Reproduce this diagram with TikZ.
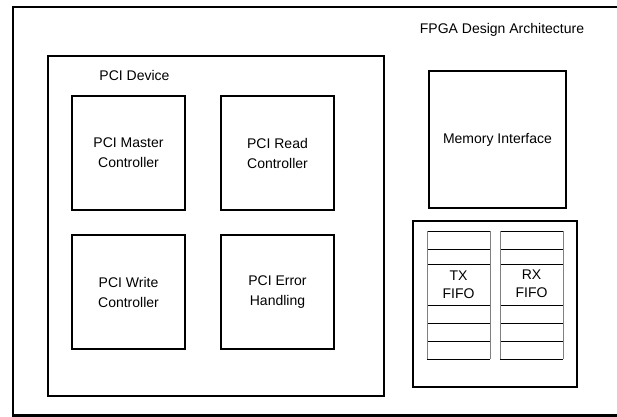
\documentclass[tikz,border=0pt]{standalone}
\usepackage{fontspec}
\setmainfont{Liberation Sans}
\usepackage{tikz}
\usetikzlibrary{positioning}
\tikzset{
    block-box/.style = {draw=black, fill=white, line width=2.5pt, rectangle, inner sep=0pt, align=center, font=\fontsize{14}{20}\selectfont},
    plain-label/.style = {inner sep=0pt, align=center, font=\fontsize{14}{20}\selectfont},
    fifo-side/.style = {draw=gray, line width=1pt},
    fifo-row/.style = {draw=black, line width=1pt},
}

\begin{document}
\begin{tikzpicture}[x=1pt, y=-1pt]
\useasboundingbox (0,0) rectangle (617,416);
\clip (0,0) rectangle (617,416);
% frame of the whole design
\draw[line width=2.5pt] (13,7) rectangle (640,415.5);
\node[plain-label] (fpga) at (502,30) {FPGA Design Architecture};

% PCI side
\node[block-box, minimum width=336pt, minimum height=340pt] (pcidev) at (216,226) {};
\node[plain-label] (pcilabel) at (134.5,75) {PCI Device};
\node[block-box, minimum width=113pt, minimum height=114pt] (master) at (128.5,153) {PCI Master\\Controller};
\node[block-box, minimum width=113pt, minimum height=114pt, right=33.5pt of master] (read) {PCI Read\\Controller};
\node[block-box, minimum width=113pt, minimum height=114pt, below=22.5pt of master] (write) {PCI Write\\Controller};
\node[block-box, minimum width=113pt, minimum height=114pt, below=22.5pt of read] (error) {PCI Error\\Handling};

% memory side
\node[block-box, minimum width=137pt, minimum height=137pt] (memory) at (497.5,139.5) {Memory Interface};
\node[block-box, minimum width=164pt, minimum height=166pt] (fifobox) at (495,304) {};
\foreach \xl/\xr in {427/490, 500/563} {
    \foreach \yy in {231,249,264,305,323,341,359}
        \draw[fifo-row] (\xl,\yy) -- (\xr,\yy);
    \draw[fifo-side] (\xl,231) -- (\xl,359);
    \draw[fifo-side] (\xr,231) -- (\xr,359);
}
\node[plain-label, font=\fontsize{14}{18}\selectfont] (txfifo) at (458.5,285) {TX\\FIFO};
\node[plain-label, font=\fontsize{14}{18}\selectfont] (rxfifo) at (531.5,284) {RX\\FIFO};
\end{tikzpicture}
\end{document}
